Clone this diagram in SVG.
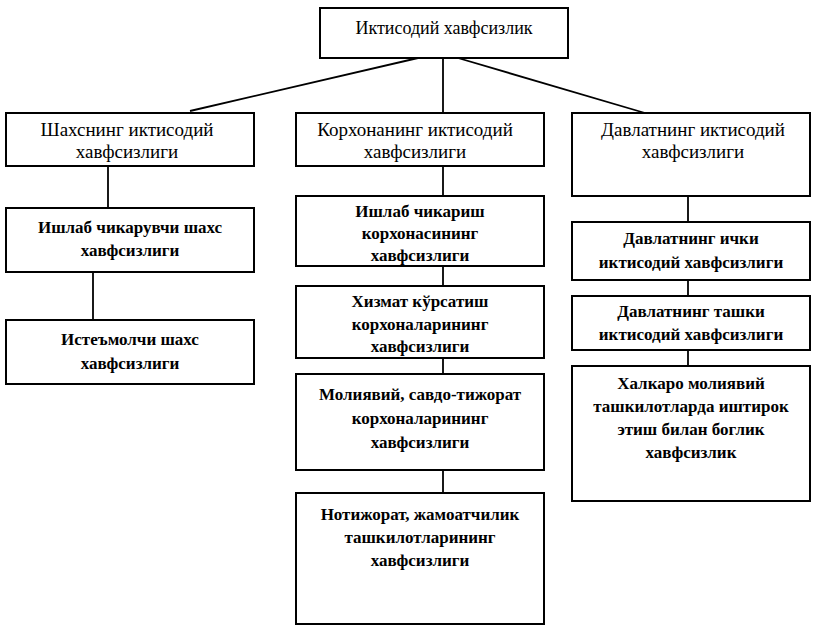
<svg xmlns="http://www.w3.org/2000/svg" width="816" height="635" viewBox="0 0 816 635">
<style>
.box{fill:#fff;stroke:#000;stroke-width:2}
.t{font-family:"Liberation Serif","Times New Roman",serif;font-size:17px;fill:#000;text-anchor:middle}
.h{font-size:19px}
.r{font-size:18px}
.b{font-weight:bold}
.c{stroke:#000;stroke-width:1.8;fill:none}
</style>
<rect width="816" height="635" fill="#fff"/>
<g id="connectors">
<path class="c" d="M418,58 L190,111" stroke-width="2.2"/>
<path class="c" d="M443,58 L443,113"/>
<path class="c" d="M458,58 L645,113" stroke-width="3.2"/>
<path class="c" d="M108,166 L108,208"/>
<path class="c" d="M93,272 L93,320"/>
<path class="c" d="M443,166 L443,196"/>
<path class="c" d="M443,266 L443,286"/>
<path class="c" d="M443,358 L443,374"/>
<path class="c" d="M443,470 L443,493"/>
<path class="c" d="M688,196 L688,222"/>
<path class="c" d="M688,280 L688,296"/>
<path class="c" d="M688,350 L688,366"/>
</g>
<g id="n0"><rect class="box" x="320" y="8" width="248" height="50"/><text class="t r" x="444" y="34">Иктисодий хавфсизлик</text></g>
<g id="n1"><rect class="box" x="6" y="113" width="248" height="53"/><text class="t h" x="127" y="136">Шахснинг иктисодий</text><text class="t h" x="127" y="158">хавфсизлиги</text></g>
<g id="n2"><rect class="box" x="296" y="113" width="248" height="53"/><text class="t h" x="415" y="136">Корхонанинг иктисодий</text><text class="t h" x="415" y="158">хавфсизлиги</text></g>
<g id="n3"><rect class="box" x="572" y="113" width="238" height="83"/><text class="t h" x="693" y="136">Давлатнинг иктисодий</text><text class="t h" x="693" y="158">хавфсизлиги</text></g>
<g id="n4"><rect class="box" x="6" y="208" width="248" height="64"/><text class="t b" x="130" y="233">Ишлаб чикарувчи шахс</text><text class="t b" x="130" y="256">хавфсизлиги</text></g>
<g id="n5"><rect class="box" x="6" y="320" width="248" height="64"/><text class="t b" x="130" y="345">Истеъмолчи шахс</text><text class="t b" x="130" y="369">хавфсизлиги</text></g>
<g id="n6"><rect class="box" x="296" y="196" width="248" height="70"/><text class="t b" x="420" y="217">Ишлаб чикариш</text><text class="t b" x="420" y="239">корхонасининг</text><text class="t b" x="420" y="261">хавфсизлиги</text></g>
<g id="n7"><rect class="box" x="296" y="286" width="248" height="72"/><text class="t b" x="420" y="307">Хизмат кўрсатиш</text><text class="t b" x="420" y="330">корхоналарининг</text><text class="t b" x="420" y="352">хавфсизлиги</text></g>
<g id="n8"><rect class="box" x="296" y="374" width="248" height="96"/><text class="t b" x="420" y="400">Молиявий, савдо-тижорат</text><text class="t b" x="420" y="424">корхоналарининг</text><text class="t b" x="420" y="448">хавфсизлиги</text></g>
<g id="n9"><rect class="box" x="296" y="493" width="248" height="131"/><text class="t b" x="420" y="520">Нотижорат, жамоатчилик</text><text class="t b" x="420" y="543">ташкилотларининг</text><text class="t b" x="420" y="566">хавфсизлиги</text></g>
<g id="n10"><rect class="box" x="572" y="222" width="238" height="58"/><text class="t b" x="691" y="244">Давлатнинг  ички</text><text class="t b" x="691" y="268">иктисодий хавфсизлиги</text></g>
<g id="n11"><rect class="box" x="572" y="296" width="238" height="54"/><text class="t b" x="691" y="317">Давлатнинг ташки</text><text class="t b" x="691" y="340">иктисодий хавфсизлиги</text></g>
<g id="n12"><rect class="box" x="572" y="366" width="238" height="135"/><text class="t b" x="691" y="389">Халкаро молиявий</text><text class="t b" x="691" y="412">ташкилотларда иштирок</text><text class="t b" x="691" y="435">этиш билан боглик</text><text class="t b" x="691" y="458">хавфсизлик</text></g>
</svg>
